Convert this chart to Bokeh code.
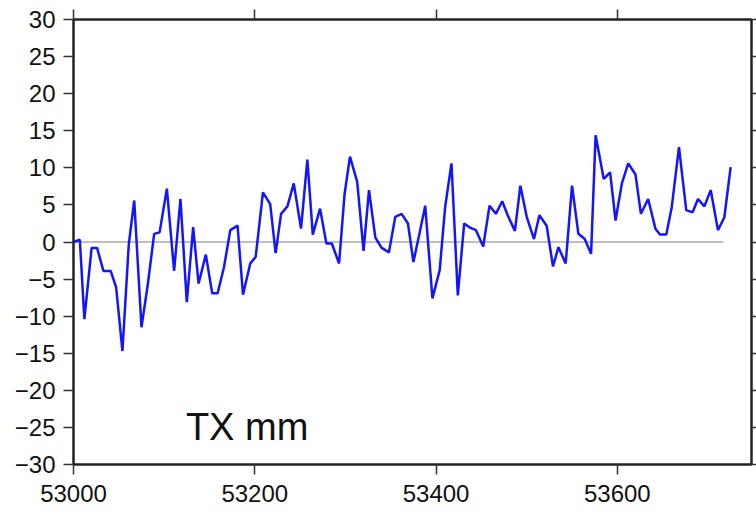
from bokeh.plotting import figure
from bokeh.models import Range1d, LinearAxis, FixedTicker, Label
from bokeh.embed import file_html
from bokeh.resources import INLINE

mjd = [53000, 53007, 53012, 53020, 53026, 53033, 53041, 53047, 53054, 53061,
       53067, 53075, 53082, 53089, 53095, 53103, 53111, 53118, 53125, 53132,
       53138, 53146, 53153, 53159, 53166, 53173, 53181, 53187, 53195, 53201,
       53209, 53217, 53223, 53229, 53236, 53243, 53251, 53258, 53264, 53272,
       53279, 53285, 53293, 53299, 53305, 53313, 53320, 53326, 53333, 53340,
       53348, 53355, 53362, 53369, 53375, 53382, 53388, 53396, 53404, 53410,
       53417, 53424, 53431, 53438, 53444, 53452, 53459, 53466, 53473, 53479,
       53487, 53493, 53500, 53508, 53514, 53522, 53529, 53535, 53543, 53550,
       53557, 53564, 53571, 53576, 53585, 53592, 53598, 53605, 53612, 53620,
       53626, 53634, 53642, 53647, 53654, 53660, 53668, 53676, 53683, 53689,
       53696, 53703, 53711, 53718, 53725]
tx_mm = [0.0, 0.3, -10.4, -0.8, -0.8, -3.9, -3.9, -6.1, -14.7, -0.3,
         5.6, -11.5, -5.7, 1.1, 1.3, 7.2, -3.9, 5.8, -8.1, 2.0,
         -5.6, -1.7, -6.9, -6.9, -3.4, 1.6, 2.2, -7.1, -2.9, -2.0,
         6.7, 5.1, -1.5, 3.8, 4.8, 7.9, 1.8, 11.1, 1.0, 4.5,
         -0.2, -0.2, -2.9, 6.4, 11.5, 8.1, -1.2, 7.0, 0.6, -0.8,
         -1.4, 3.4, 3.8, 2.5, -2.7, 1.3, 4.9, -7.6, -3.8, 4.7,
         10.6, -7.2, 2.5, 1.9, 1.6, -0.6, 4.9, 3.8, 5.5, 3.6,
         1.5, 7.6, 3.4, 0.4, 3.6, 2.2, -3.3, -0.7, -2.9, 7.6,
         1.1, 0.4, -1.6, 14.4, 8.5, 9.4, 2.9, 7.9, 10.6, 9.1,
         3.8, 5.8, 1.8, 1.0, 1.0, 4.7, 12.8, 4.3, 4.0, 5.8,
         4.8, 7.0, 1.6, 3.3, 10.1]

x_ticks = [53000, 53200, 53400, 53600]
y_ticks = [-30, -25, -20, -15, -10, -5, 0, 5, 10, 15, 20, 25, 30]
zero_x = [53000, 53717]
zero_y = [0, 0]
label_text = "TX mm"

FONT = "Liberation Sans"

p = figure(width=756, height=512, output_backend="svg", toolbar_location=None,
           x_range=Range1d(53000, 53748), y_range=Range1d(-30, 30),
           min_border_left=73, min_border_right=5, min_border_top=19,
           min_border_bottom=48, x_axis_location=None, y_axis_location=None)
p.grid.visible = False
p.outline_line_color = "#222222"
p.outline_line_width = 2

def style(ax, ticks, labels=True, out=10):
    ax.axis_line_color = "#222222"
    ax.axis_line_width = 2
    ax.major_tick_line_color = "#333333"
    ax.major_tick_line_width = 1.5
    ax.major_tick_in = 0
    ax.major_tick_out = out
    ax.minor_tick_line_color = None
    if labels:
        ax.major_label_text_font = FONT
        ax.major_label_text_font_size = "24px"
        ax.major_label_text_color = "#111111"
    else:
        ax.major_label_overrides = {t: "" for t in ticks}
        ax.major_label_text_font_size = "1px"
        ax.major_label_standoff = 0

bottom = LinearAxis(ticker=FixedTicker(ticks=x_ticks))
style(bottom, x_ticks)
bottom.major_label_standoff = 10
bottom.formatter.use_scientific = False
p.add_layout(bottom, "below")

top = LinearAxis(ticker=FixedTicker(ticks=x_ticks))
style(top, x_ticks, labels=False, out=10)
p.add_layout(top, "above")

left = LinearAxis(ticker=FixedTicker(ticks=y_ticks))
style(left, y_ticks)
left.major_label_standoff = 8
p.add_layout(left, "left")

right = LinearAxis(ticker=FixedTicker(ticks=y_ticks))
style(right, y_ticks, labels=False, out=5)
p.add_layout(right, "right")

p.line(zero_x, zero_y, line_color="#aaaaaa", line_width=1.5)
p.line(mjd, tx_mm, line_color="#1414ff", line_width=2.5)

p.add_layout(Label(x=53124, y=-25, text=label_text, text_font=FONT,
                   text_font_size="38px", text_color="#111111",
                   text_baseline="alphabetic"))

open("out.html", "w").write(file_html(p, INLINE))
